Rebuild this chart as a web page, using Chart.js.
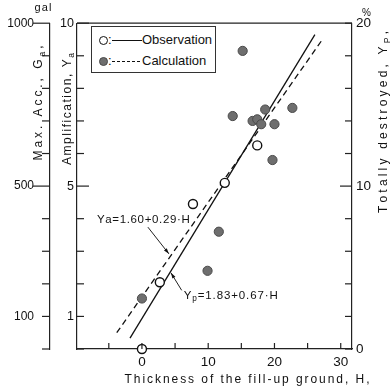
<!DOCTYPE html>
<html>
<head>
<meta charset="utf-8">
<script src="https://cdn.jsdelivr.net/npm/chart.js@4.4.1/dist/chart.umd.min.js"></script>
<style>
  body { margin: 0; background: #fff; }
  #wrap { position: relative; width: 391px; height: 392px; }
  #legend {
    position: absolute; left: 91px; top: 26px; width: 125px; height: 47px;
    border: 1.5px solid #333; box-sizing: border-box; background: #fff;
    font: 13px "Liberation Sans", Arial, sans-serif; color: #111;
  }
  #legend span { position: absolute; line-height: 16px; }
  .dot { width: 9px; height: 9px; border-radius: 50%; box-sizing: border-box; }
  .open { border: 1.4px solid #111; background: #fff; }
  .full { border: 1px solid #4a4a4a; background: #6e6e6e; }
  .solid { width: 30px; height: 1.3px; background: #111; }
  .dash { width: 30px; height: 1.2px; background: repeating-linear-gradient(to right, #111 0 3px, transparent 3px 5px); }
</style>
</head>
<body>
<div id="wrap">
  <canvas id="chart" width="391" height="392"></canvas>
  <div id="legend">
    <span class="dot open" style="left:7px; top:9px;"></span>
    <span style="left:16px; top:5px;">:</span>
    <span class="solid" style="left:20px; top:13px;"></span>
    <span style="left:50px; top:5px;">Observation</span>
    <span class="dot full" style="left:7px; top:30px;"></span>
    <span style="left:16px; top:26px;">:</span>
    <span class="dash" style="left:20px; top:34px;"></span>
    <span style="left:50px; top:26px;">Calculation</span>
  </div>
</div>
<script>
// observed points (thickness H, totally destroyed %)
const obsH = [0, 2.7, 7.7, 12.5, 17.4];
const obsY = [0, 4.1, 8.9, 10.2, 12.5];
// calculated points
const calH = [0, 9.9, 11.6, 13.7, 15.2, 16.7, 17.4, 18.0, 18.6, 19.7, 20.0, 22.7];
const calY = [3.1, 4.8, 7.2, 14.3, 18.3, 14.0, 14.1, 13.8, 14.7, 11.6, 13.8, 14.8];
// fitted lines
const ypLineH = [-1.8, 26.1];
const ypLineY = [0.67, 19.3];
const yaLineH = [-3.8, 27.2];
const yaLineY = [0.5, 9.49];
// labelled ticks
const xLabels = [0, 10, 20, 30];
const accLabels = [100, 500, 1000];
const ampLabels = [1, 5, 10];
const pctLabels = [0, 10, 20];

const FONT = '"Liberation Sans", Arial, sans-serif';

function pts(xs, ys) {
  return xs.map((x, i) => ({ x: x, y: ys[i] }));
}

function line(ctx, x1, y1, x2, y2) {
  ctx.beginPath();
  ctx.moveTo(x1, y1);
  ctx.lineTo(x2, y2);
  ctx.stroke();
}

// draws text char by char, stretched to a given length
function spacedText(ctx, parts, cx, cy, rot, length, size) {
  ctx.save();
  ctx.translate(cx, cy);
  ctx.rotate(rot);
  const chars = [];
  parts.forEach(([s, sub]) => { for (const ch of s) chars.push([ch, sub]); });
  const font = (sub) => `${sub ? size * 0.72 : size}px ${FONT}`;
  let natural = 0;
  chars.forEach((c) => {
    ctx.font = font(c[1]);
    c.push(ctx.measureText(c[0]).width);
    natural += c[2];
  });
  const gap = chars.length > 1 ? (length - natural) / (chars.length - 1) : 0;
  let x = -length / 2;
  ctx.textBaseline = 'middle';
  ctx.textAlign = 'left';
  chars.forEach(([ch, sub, w]) => {
    ctx.font = font(sub);
    ctx.fillText(ch, x, sub ? size * 0.3 : 0);
    x += w + gap;
  });
  ctx.restore();
}

function arrow(ctx, x1, y1, x2, y2) {
  line(ctx, x1, y1, x2, y2);
  const a = Math.atan2(y2 - y1, x2 - x1);
  ctx.beginPath();
  ctx.moveTo(x2, y2);
  ctx.lineTo(x2 - 6 * Math.cos(a - 0.3), y2 - 6 * Math.sin(a - 0.3));
  ctx.lineTo(x2 - 6 * Math.cos(a + 0.3), y2 - 6 * Math.sin(a + 0.3));
  ctx.closePath();
  ctx.fill();
}

const extras = {
  id: 'extras',
  afterDraw(chart) {
    const { ctx, chartArea: a, scales } = chart;
    const { x, yP, yA, yG } = scales;
    ctx.save();
    ctx.strokeStyle = '#222';
    ctx.fillStyle = '#111';
    ctx.lineWidth = 1.2;
    line(ctx, a.left, a.top, a.right, a.top);

    // inward ticks
    x.ticks.forEach((t) => {
      const px = x.getPixelForValue(t.value);
      line(ctx, px, a.bottom, px, a.bottom - 6);
    });
    yA.ticks.forEach((t) => {
      const py = yA.getPixelForValue(t.value);
      const len = t.value === 5 || t.value === 10 ? 12 : 7;
      line(ctx, a.left, py, a.left + len, py);
    });
    yP.ticks.forEach((t) => {
      const py = yP.getPixelForValue(t.value);
      const len = t.value === 10 ? 12 : 7;
      line(ctx, a.right, py, a.right - len, py);
    });
    // outward ticks on the acceleration axis
    yG.ticks.forEach((t) => {
      const py = yG.getPixelForValue(t.value);
      const len = t.value === 500 || t.value === 1000 ? 17 : 8;
      line(ctx, yG.right, py, yG.right - len, py);
    });

    // axis titles
    spacedText(ctx, [['Max. Acc., G'], ['a', true], [',']], 39, 103, -Math.PI / 2, 115, 12);
    spacedText(ctx, [['Amplification, Y'], ['a', true]], 68, 109, -Math.PI / 2, 112, 12);
    spacedText(ctx, [['Totally destroyed, Y'], ['P', true], [',']], 384, 122, -Math.PI / 2, 182, 12);
    spacedText(ctx, [['Thickness of the fill-up ground, H,']], 247, 380, 0, 245, 12);
    spacedText(ctx, [['gal']], 43, 8, 0, 17, 11);
    spacedText(ctx, [['%']], 366, 13, 0, 8, 10);

    // equation labels with pointers
    ctx.lineWidth = 1;
    const ya0 = x.getPixelForValue(-6.8), ya1 = yA.getPixelForValue(3.98);
    spacedText(ctx, [['Ya=1.60+0.29·H']], ya0 + 46.5, ya1, 0, 93, 11.5);
    arrow(ctx, x.getPixelForValue(0.9), yA.getPixelForValue(3.74),
      x.getPixelForValue(4.07), yA.getPixelForValue(2.92));
    const yp0 = x.getPixelForValue(6.3), yp1 = yP.getPixelForValue(3.28);
    spacedText(ctx, [['Y'], ['p', true], ['=1.83+0.67·H']], yp0 + 47, yp1, 0, 94, 11.5);
    arrow(ctx, x.getPixelForValue(6.0), yP.getPixelForValue(3.6),
      x.getPixelForValue(4.37), yP.getPixelForValue(4.68));
    ctx.restore();
  },
};

const border = { display: true, color: '#222', width: 1.2 };
const noGrid = { display: false, drawTicks: false };
const tickFont = (size) => ({ family: FONT, size: size });

new Chart(document.getElementById('chart'), {
  type: 'scatter',
  data: {
    datasets: [
      {
        label: 'Observation',
        data: pts(obsH, obsY),
        yAxisID: 'yP',
        pointRadius: 4.5,
        pointBackgroundColor: '#fff',
        pointBorderColor: '#111',
        pointBorderWidth: 1.4,
        clip: false,
        order: 0,
      },
      {
        label: 'Calculation',
        data: pts(calH, calY),
        yAxisID: 'yP',
        pointRadius: 4.6,
        pointBackgroundColor: '#6e6e6e',
        pointBorderColor: '#4a4a4a',
        pointBorderWidth: 1,
        clip: false,
        order: 1,
      },
      {
        label: 'Yp fit',
        data: pts(ypLineH, ypLineY),
        yAxisID: 'yP',
        showLine: true,
        pointRadius: 0,
        borderColor: '#111',
        borderWidth: 1.3,
        clip: false,
        order: 2,
      },
      {
        label: 'Ya fit',
        data: pts(yaLineH, yaLineY),
        yAxisID: 'yA',
        showLine: true,
        pointRadius: 0,
        borderColor: '#111',
        borderWidth: 1.3,
        borderDash: [6, 4],
        clip: false,
        order: 3,
      },
    ],
  },
  options: {
    responsive: false,
    animation: false,
    layout: { padding: { top: 20, left: 0, right: 0, bottom: 0 } },
    plugins: { legend: { display: false }, tooltip: { enabled: false } },
    scales: {
      x: {
        type: 'linear',
        position: 'bottom',
        min: -9.8,
        max: 31.7,
        grid: noGrid,
        border: border,
        ticks: {
          stepSize: 5,
          includeBounds: false,
          autoSkip: false,
          maxRotation: 0,
          padding: 5,
          color: '#111',
          font: tickFont(13.5),
          callback: (v) => (xLabels.includes(v) ? v : ''),
        },
        afterFit: (s) => { s.height = 43; },
      },
      yP: {
        type: 'linear',
        position: 'right',
        min: 0,
        max: 20,
        grid: noGrid,
        border: border,
        ticks: {
          stepSize: 2,
          includeBounds: false,
          autoSkip: false,
          padding: 4,
          color: '#111',
          font: tickFont(13.5),
          callback: (v) => (pctLabels.includes(v) ? v : ''),
        },
        afterFit: (s) => { s.width = 39; },
      },
      yA: {
        type: 'linear',
        position: 'left',
        weight: 0,
        display: true,
        min: 0,
        max: 10,
        grid: noGrid,
        border: border,
        ticks: {
          stepSize: 1,
          includeBounds: false,
          autoSkip: false,
          padding: 3,
          color: '#111',
          font: tickFont(12.5),
          callback: (v) => (ampLabels.includes(v) ? v : ''),
        },
        afterFit: (s) => { s.width = 27; },
      },
      yG: {
        type: 'linear',
        position: 'left',
        weight: 1,
        display: true,
        min: 0,
        max: 1000,
        grid: noGrid,
        border: border,
        ticks: {
          stepSize: 100,
          includeBounds: false,
          autoSkip: false,
          padding: 16,
          color: '#111',
          font: tickFont(12),
          callback: (v) => (accLabels.includes(v) ? v : ''),
        },
        afterFit: (s) => { s.width = 50; },
      },
    },
  },
  plugins: [extras],
});
</script>
</body>
</html>
